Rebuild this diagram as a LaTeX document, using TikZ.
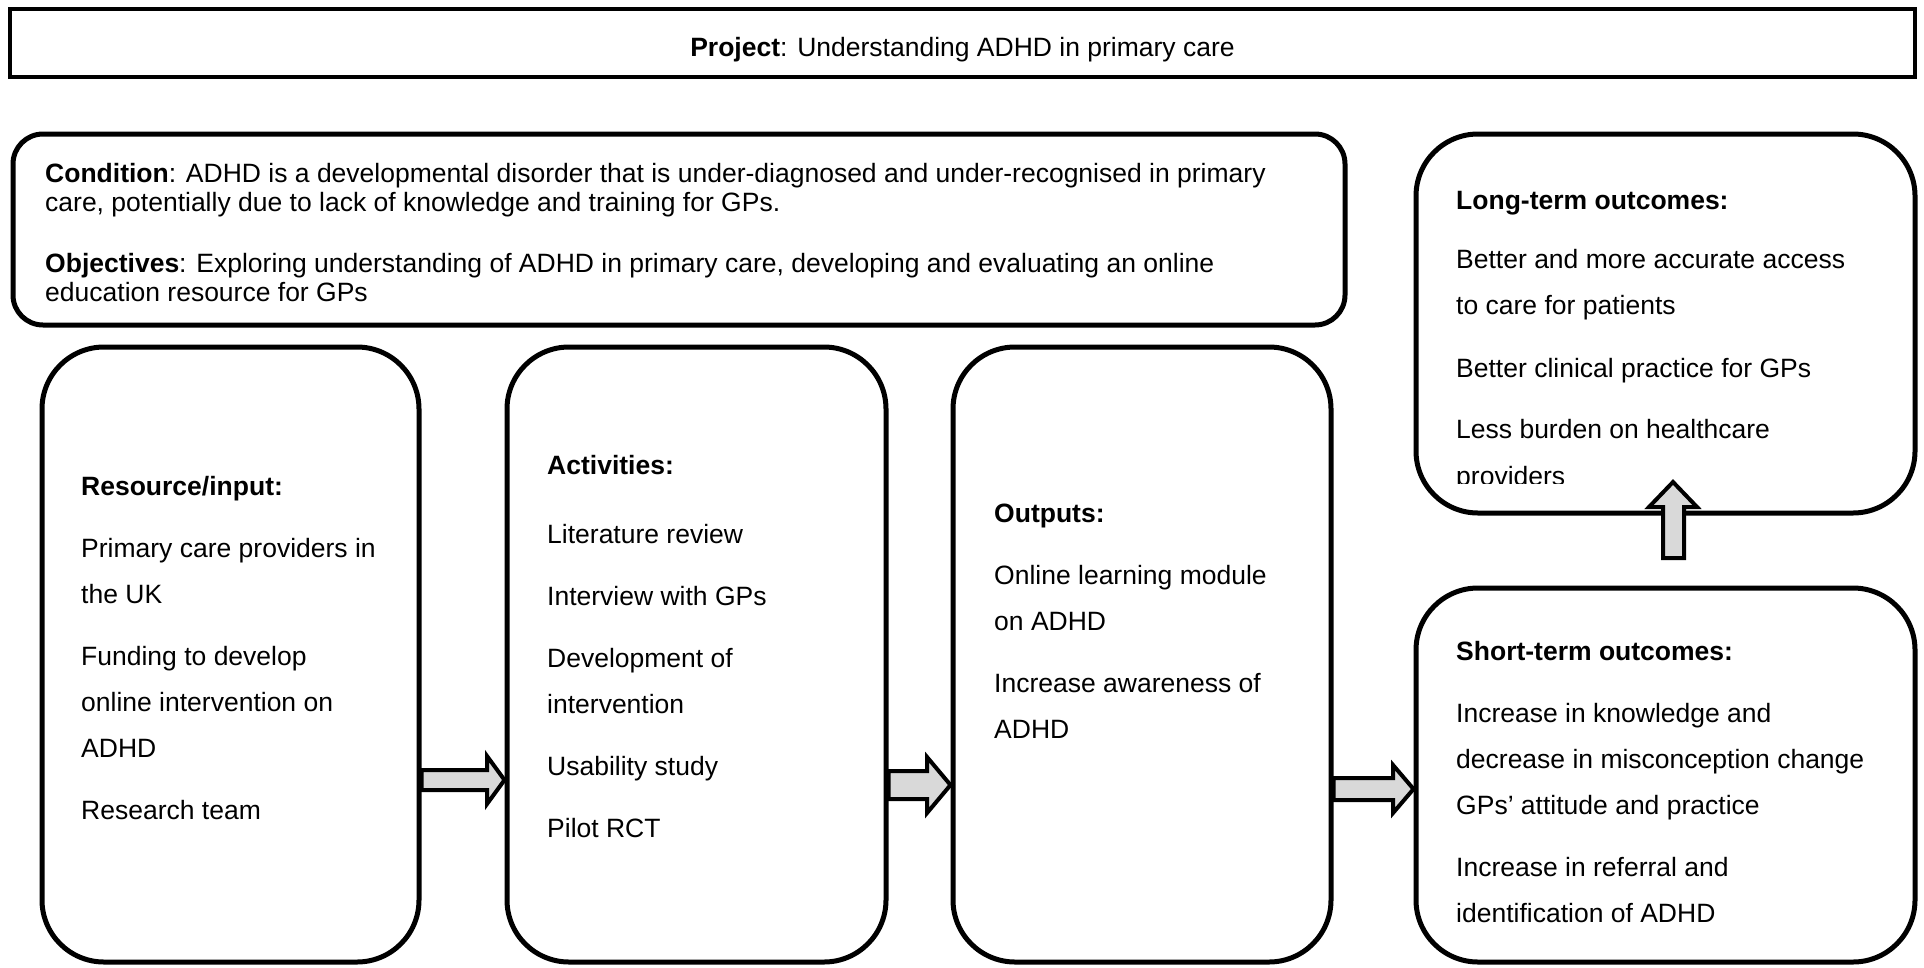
\documentclass[tikz,border=0pt]{standalone}
\usepackage{fontspec}
\setmainfont{Liberation Sans}
\definecolor{arrowfill}{HTML}{D9D9D9}
\begin{document}
\begin{tikzpicture}[x=1pt,y=1pt,
  every node/.style={font=\fontsize{26.5}{30}\selectfont},
  titlebox/.style={draw=black, line width=4pt, rectangle, inner sep=0pt},
  panel/.style={draw=black, line width=5pt, rectangle, inner sep=0pt},
  txt/.style={anchor=base west, inner sep=0pt},
  hd/.style={txt, font=\fontsize{26.5}{30}\selectfont\bfseries},
  barrow/.style={draw=black, fill=arrowfill, line width=4pt, line join=miter}
]
\useasboundingbox (0,0) rectangle (1924,-967);

% frame boxes
\node[titlebox, minimum width=1905, minimum height=68] (proj) at (962.5,-43) {};
\node[panel, rounded corners=30, minimum width=1332, minimum height=191] (cond) at (679,-229.5) {};
\node[panel, rounded corners=62, minimum width=377, minimum height=615] (res) at (230.5,-654.5) {};
\node[panel, rounded corners=62, minimum width=379, minimum height=615] (act) at (696.5,-654.5) {};
\node[panel, rounded corners=62, minimum width=378, minimum height=615] (out) at (1142,-654.5) {};
\node[panel, rounded corners=62, minimum width=499, minimum height=379] (long) at (1665.5,-323.5) {};
\node[panel, rounded corners=62, minimum width=499, minimum height=374] (short) at (1665.5,-775) {};

% title
\node[anchor=base, inner sep=0pt] (projtxt) at (962.5,-56) {\textbf{Project}: Understanding ADHD in primary care};

% condition and objectives
\node[txt] (c1) at (45,-182) {\textbf{Condition}: ADHD is a developmental disorder that is under-diagnosed and under-recognised in primary};
\node[txt] (c2) at (45,-211) {care, potentially due to lack of knowledge and training for GPs.};
\node[txt] (c3) at (45,-272) {\textbf{Objectives}: Exploring understanding of ADHD in primary care, developing and evaluating an online};
\node[txt] (c4) at (45,-301) {education resource for GPs};

% resource / input
\node[hd] (r0) at (81,-495) {Resource/input:};
\node[txt] (r1) at (81,-557) {Primary care providers in};
\node[txt] (r2) at (81,-603) {the UK};
\node[txt] (r3) at (81,-665) {Funding to develop};
\node[txt] (r4) at (81,-711) {online intervention on};
\node[txt] (r5) at (81,-757) {ADHD};
\node[txt] (r6) at (81,-819) {Research team};

% activities
\node[hd] (a0) at (547,-474) {Activities:};
\node[txt] (a1) at (547,-543) {Literature review};
\node[txt] (a2) at (547,-605) {Interview with GPs};
\node[txt] (a3) at (547,-667) {Development of};
\node[txt] (a4) at (547,-713) {intervention};
\node[txt] (a5) at (547,-775) {Usability study};
\node[txt] (a6) at (547,-837) {Pilot RCT};

% outputs
\node[hd] (o0) at (994,-522) {Outputs:};
\node[txt] (o1) at (994,-584) {Online learning module};
\node[txt] (o2) at (994,-630) {on ADHD};
\node[txt] (o3) at (994,-692) {Increase awareness of};
\node[txt] (o4) at (994,-738) {ADHD};

% long-term outcomes (text runs past the box and is cut off)
\begin{scope}
\clip (1416,-134) rectangle (1915,-483);
\node[hd] (l0) at (1456,-209) {Long-term outcomes:};
\node[txt] (l1) at (1456,-268) {Better and more accurate access};
\node[txt] (l2) at (1456,-314) {to care for patients};
\node[txt] (l3) at (1456,-377) {Better clinical practice for GPs};
\node[txt] (l4) at (1456,-438) {Less burden on healthcare};
\node[txt] (l5) at (1456,-485) {providers};
\end{scope}

% short-term outcomes
\node[hd] (s0) at (1456,-660) {Short-term outcomes:};
\node[txt] (s1) at (1456,-722) {Increase in knowledge and};
\node[txt] (s2) at (1456,-768) {decrease in misconception change};
\node[txt] (s3) at (1456,-814) {GPs’ attitude and practice};
\node[txt] (s4) at (1456,-876) {Increase in referral and};
\node[txt] (s5) at (1456,-922) {identification of ADHD};

% block arrows between stages
\draw[barrow] (res.east |- 0,-770) -- (487,-770) -- (487,-756) -- (act.west |- 0,-780)
  -- (487,-804) -- (487,-790) -- (res.east |- 0,-790) -- cycle;
\draw[barrow] (act.east |- 0,-771) -- (927,-771) -- (927,-757) -- (out.west |- 0,-785)
  -- (927,-813) -- (927,-799) -- (act.east |- 0,-799) -- cycle;
\draw[barrow] (out.east |- 0,-778) -- (1393,-778) -- (1393,-765) -- (short.west |- 0,-789)
  -- (1393,-813) -- (1393,-800) -- (out.east |- 0,-800) -- cycle;
% upward arrow from short-term to long-term
\draw[barrow] (1663,-558) -- (1663,-507) -- (1649,-507) -- (1673,-482)
  -- (1697,-507) -- (1684,-507) -- (1684,-558) -- cycle;
\end{tikzpicture}
\end{document}
